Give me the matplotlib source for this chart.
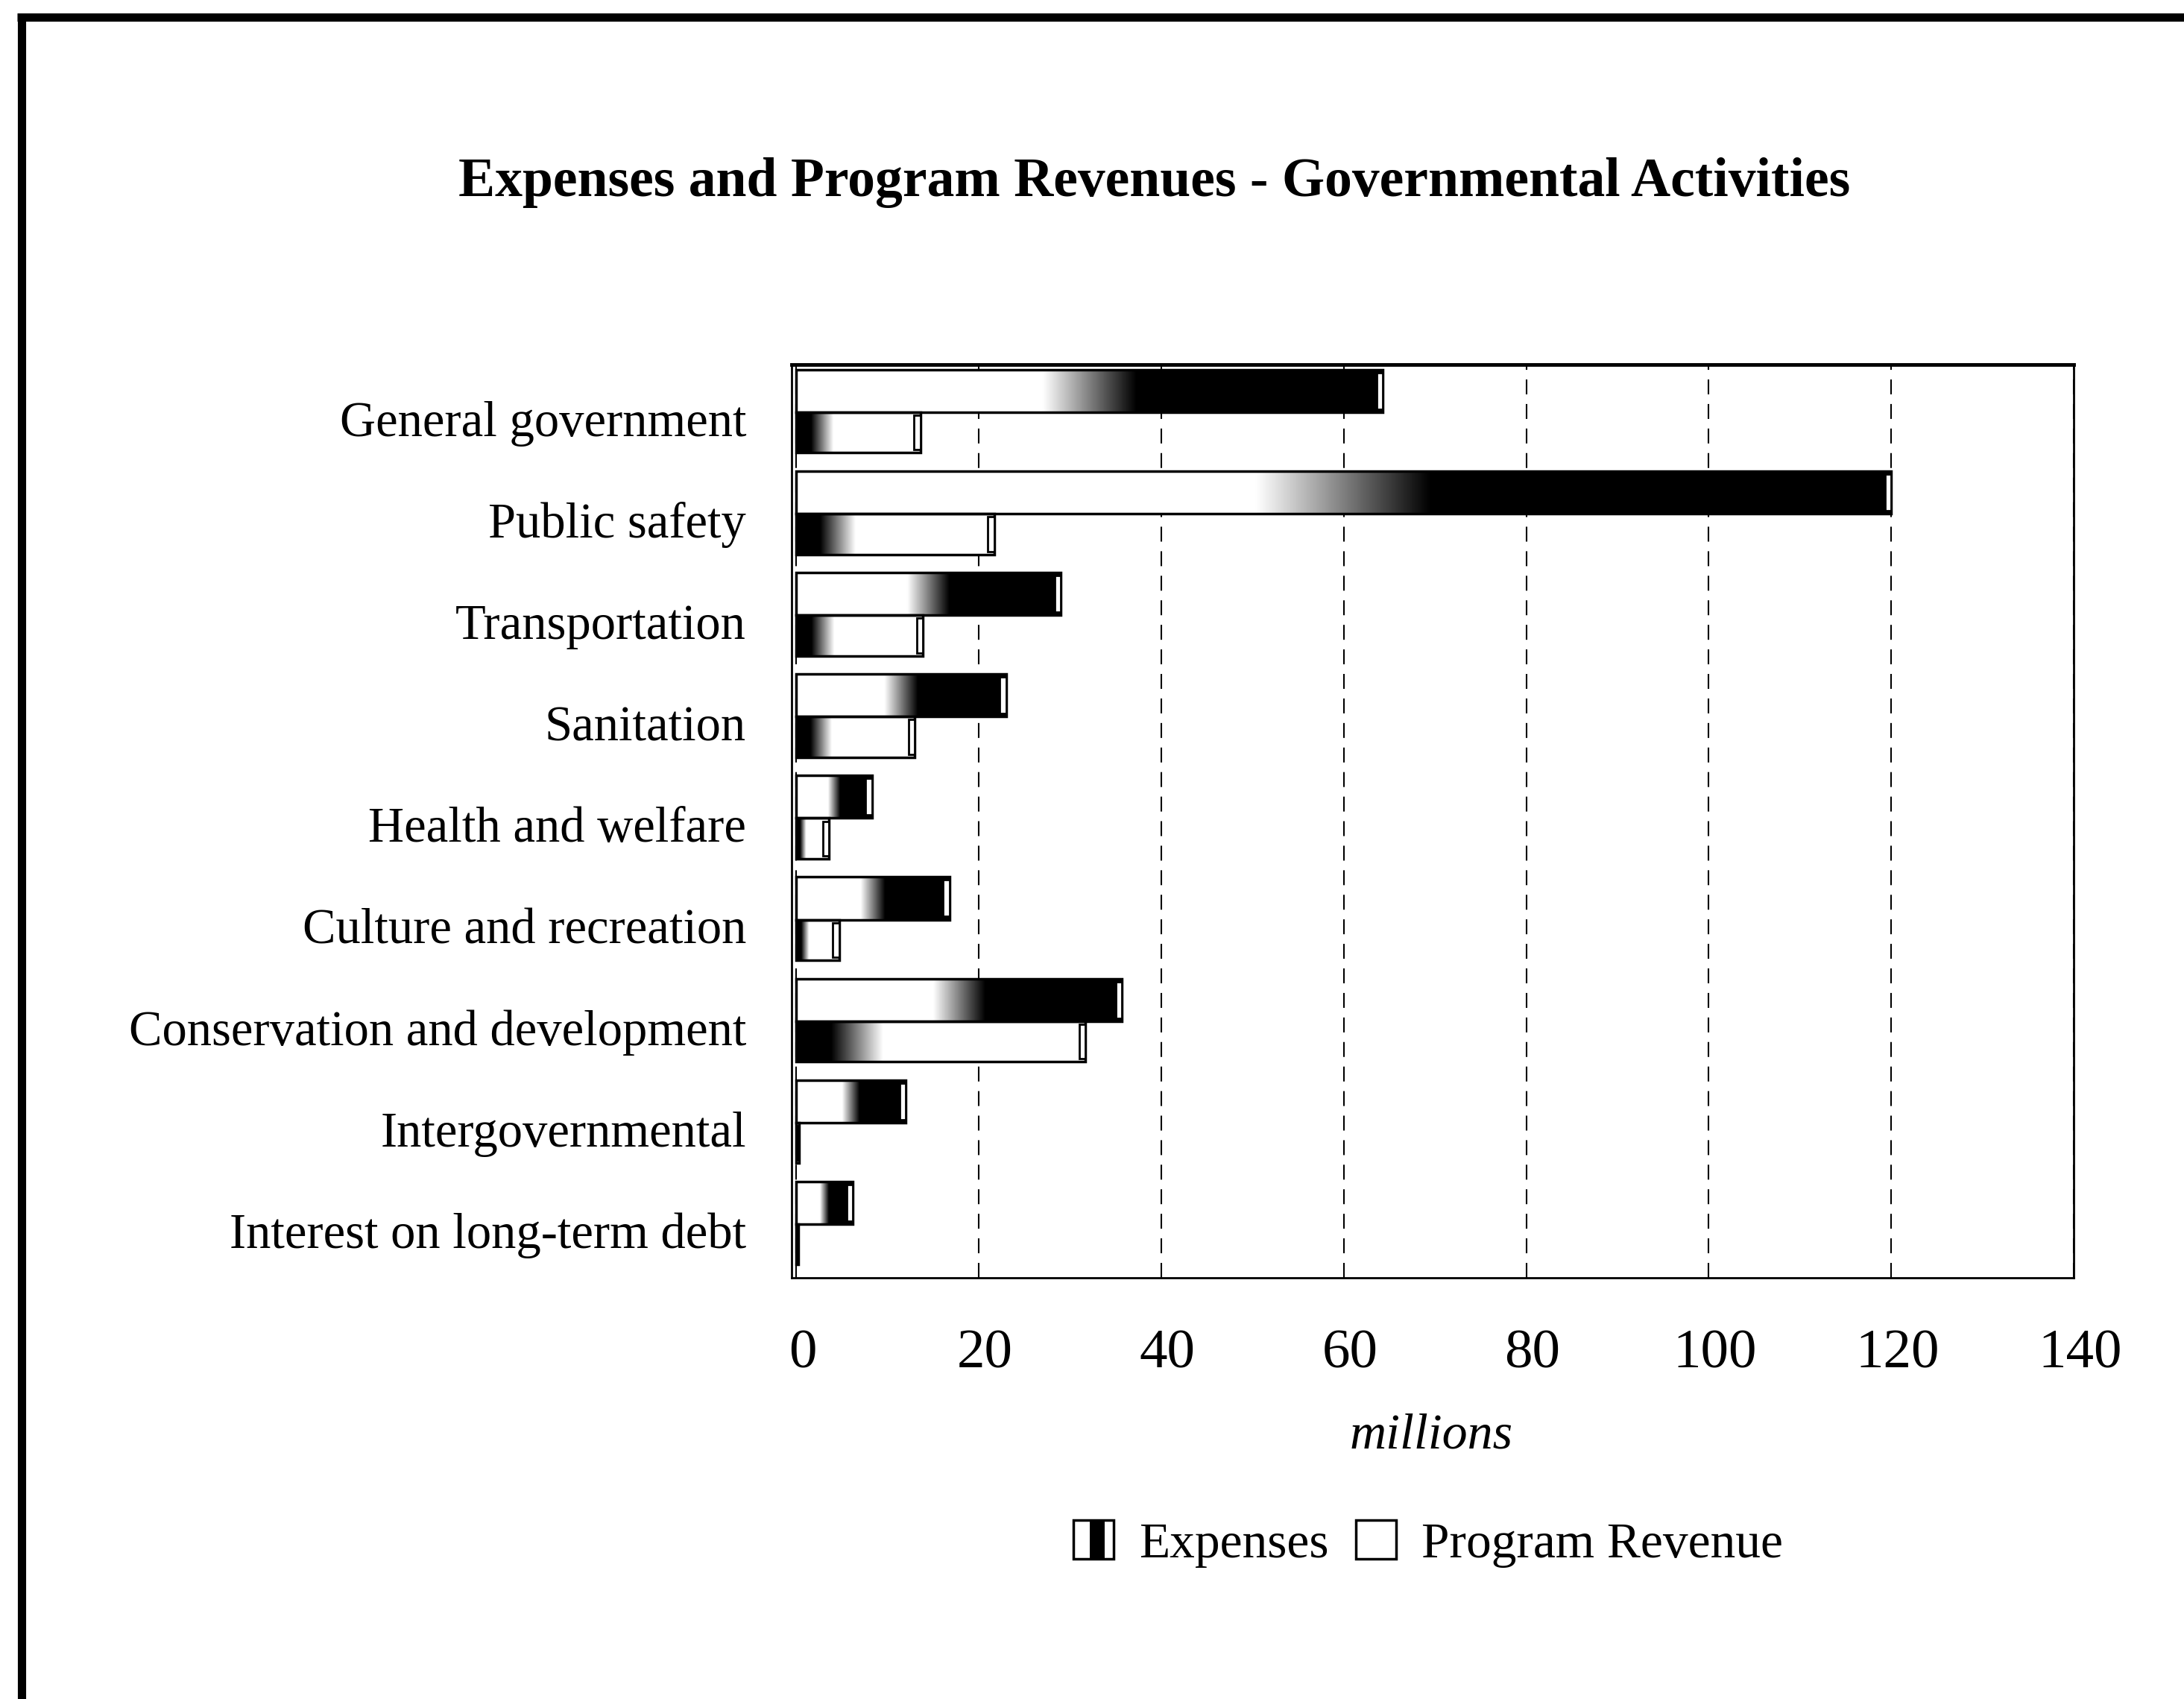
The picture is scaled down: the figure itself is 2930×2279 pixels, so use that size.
import matplotlib
matplotlib.use("Agg")
import matplotlib.pyplot as plt
import matplotlib.transforms as mtransforms
import numpy as np
from matplotlib.patches import Rectangle
from matplotlib.lines import Line2D
from matplotlib.legend_handler import HandlerBase

categories = ["General government", "Public safety", "Transportation", "Sanitation",
              "Health and welfare", "Culture and recreation",
              "Conservation and development", "Intergovernmental",
              "Interest on long-term debt"]
expenses = [64.3, 120.0, 29.0, 23.0, 8.3, 16.8, 35.7, 12.0, 6.2]
program_revenue = [13.6, 21.7, 13.9, 13.0, 3.6, 4.7, 31.7, 0.3, 0.2]
xticks = [0, 20, 40, 60, 80, 100, 120, 140]

plt.rcParams['font.family'] = ['Liberation Serif', 'DejaVu Serif']

fig = plt.figure(figsize=(29.3, 22.79), dpi=100)
ax = fig.add_axes([0.3625, 0.2479, 0.5870, 0.5375])


def ramp(start, stop, reverse=False):
    # white (1) -> black (0) between two fractions of the bar length
    t = np.linspace(0, 1, 500)
    v = np.clip((stop - t) / (stop - start), 0, 1)
    return 1 - v if reverse else v


def shaded_bars(ypos, values, height, start, stop, reverse):
    bars = ax.barh(ypos, values, height=height, facecolor='none',
                   edgecolor='black', linewidth=2.5, zorder=3)
    for rect, val in zip(bars.patches, values):
        y0 = rect.get_y()
        y1 = y0 + rect.get_height()
        im = ax.imshow(ramp(start, stop, reverse)[None, :], cmap='gray',
                       vmin=0, vmax=1, aspect='auto', interpolation='bilinear',
                       extent=[0, val, y1, y0], zorder=2)
        im.set_clip_path(rect)
        # light end face of each bar
        cap = min(0.7, val * 0.5)
        ax.add_patch(Rectangle((val - cap, y0 + 0.03), cap, rect.get_height() - 0.06,
                               facecolor='white', edgecolor='black',
                               linewidth=2, zorder=4))
    return bars


y = np.arange(len(categories))
shaded_bars(y - 0.24, expenses, 0.42, 0.42, 0.58, reverse=False)
shaded_bars(y + 0.17, program_revenue, 0.40, 0.12, 0.30, reverse=True)

ax.set_xlim(-0.5, 139.4)
ax.set_ylim(8.5, -0.5)
ax.set_xticks(xticks)
ax.set_xticklabels([str(v) for v in xticks], fontsize=54)
ax.set_yticks(y)
ax.set_yticklabels(categories, fontsize=48)
ax.tick_params(axis='both', length=0)
ax.tick_params(axis='y', pad=44)
ax.tick_params(axis='x', pad=50)
ax.xaxis.grid(True, color='black', linewidth=1.5, linestyle=(0, (9.6, 6.2)))
ax.set_axisbelow(True)
for side, sp in ax.spines.items():
    sp.set_color('black')
    sp.set_linewidth(2)
ax.spines['top'].set_linewidth(3.5)

# nudge tick labels: x labels a little right, y labels a little down
shift_x = mtransforms.ScaledTranslation(6 / 72, 0, fig.dpi_scale_trans)
for lbl in ax.get_xticklabels():
    lbl.set_transform(lbl.get_transform() + shift_x)
shift_y = mtransforms.ScaledTranslation(0, -3 / 72, fig.dpi_scale_trans)
for lbl in ax.get_yticklabels():
    lbl.set_transform(lbl.get_transform() + shift_y)

fig.text(0.5287, 0.8925, "Expenses and Program Revenues - Governmental Activities",
         ha='center', va='center', fontsize=53, fontweight='bold')
fig.text(0.6553, 1 - 1926 / 2279, "millions", ha='center', va='center',
         fontsize=49, fontstyle='italic')


class SplitBox(HandlerBase):
    def create_artists(self, legend, orig_handle, xdescent, ydescent,
                       width, height, fontsize, trans):
        x0, y0 = -xdescent, -ydescent
        outer = Rectangle((x0, y0), width, height, facecolor='white',
                          edgecolor='black', linewidth=2.5, transform=trans)
        arts = [outer]
        if orig_handle.get_label() == "Expenses":
            arts.append(Rectangle((x0 + width * 0.4, y0), width * 0.38, height,
                                  facecolor='black', edgecolor='none', transform=trans))
        return arts


h_exp = Rectangle((0, 0), 1, 1, label="Expenses")
h_rev = Rectangle((0, 0), 1, 1, label="Program Revenue")
fig.legend(handles=[h_exp, h_rev], loc='center',
           bbox_to_anchor=(0.654, 1 - 2071 / 2279), ncol=2, frameon=False,
           fontsize=48.5, handlelength=0.8, handleheight=0.8,
           columnspacing=0.55, handletextpad=0.5,
           handler_map={Rectangle: SplitBox()})

# page frame along the top and left edges
fig.add_artist(Line2D([23 / 2930, 1], [1 - 23 / 2279] * 2, transform=fig.transFigure,
                      color='black', linewidth=8, solid_capstyle='butt'))
fig.add_artist(Line2D([29 / 2930] * 2, [0, 1 - 18 / 2279], transform=fig.transFigure,
                      color='black', linewidth=8, solid_capstyle='butt'))

fig.savefig("out.png", dpi=100, facecolor='white')
